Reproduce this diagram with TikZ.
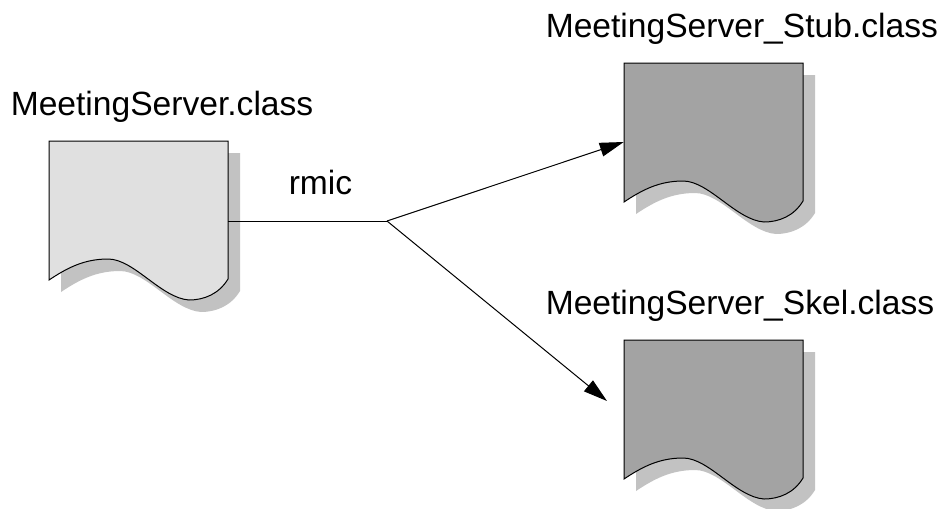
\documentclass[tikz,border=0pt]{standalone}
\usepackage{fontspec}
\setmainfont{Liberation Sans}
\usetikzlibrary{arrows.meta,positioning,calc}
\definecolor{lightdoc}{gray}{0.88}
\definecolor{darkdoc}{gray}{0.64}
\definecolor{docshadow}{gray}{0.76}
\newcommand{\docoutline}{(0,0) -- (179,0) -- (179,138) .. controls (170,153) and (155,159) .. (140,159) .. controls (112,157) and (85,118) .. (59,118) .. controls (35,118) and (18,127) .. (0,139) -- cycle}
\tikzset{
	x=0.75pt, y=-0.75pt,
	doclabel/.style={font=\fontsize{25.2}{25.2}\selectfont, inner sep=0pt},
	docbody/.style={minimum width=134.25pt, minimum height=119.25pt, inner sep=0pt},
	line/.style={line width=0.75pt},
	arrowline/.style={line, -{Triangle[length=18pt,width=10.5pt]}},
	pics/paperdoc/.style={code={
		\fill[docshadow, shift={(12,12)}] \docoutline;
		\draw[line, fill=#1] \docoutline;
	}},
}
\begin{document}
\begin{tikzpicture}
	\useasboundingbox (0,0) rectangle (941,508);

	\pic at (49,141) {paperdoc=lightdoc};
	\node[docbody] (server) at (138.5,221) {};
	\pic at (624,63) {paperdoc=darkdoc};
	\node[docbody] (stub) at (713.5,142) {};
	\pic at (624,340) {paperdoc=darkdoc};
	\node[docbody] (skel) at (713.5,419.5) {};

	\node[doclabel, anchor=base west] (serverlabel) at (10.5,115) {MeetingServer.class};
	\node[doclabel, anchor=base west] (stublabel) at (545.5,37) {MeetingServer\_Stub.class};
	\node[doclabel, anchor=base west] (skellabel) at (545.5,314) {MeetingServer\_Skel.class};
	\node[doclabel, anchor=base west] (rmiclabel) at (288.5,194) {rmic};

	\coordinate (fork) at (387,221);
	\coordinate (skelarrow) at (607,401);

	\draw[line] (server.east) -- (fork);
	\draw[arrowline] (fork) -- (stub.west);
	\draw[arrowline] (fork) -- (skelarrow);
\end{tikzpicture}
\end{document}
